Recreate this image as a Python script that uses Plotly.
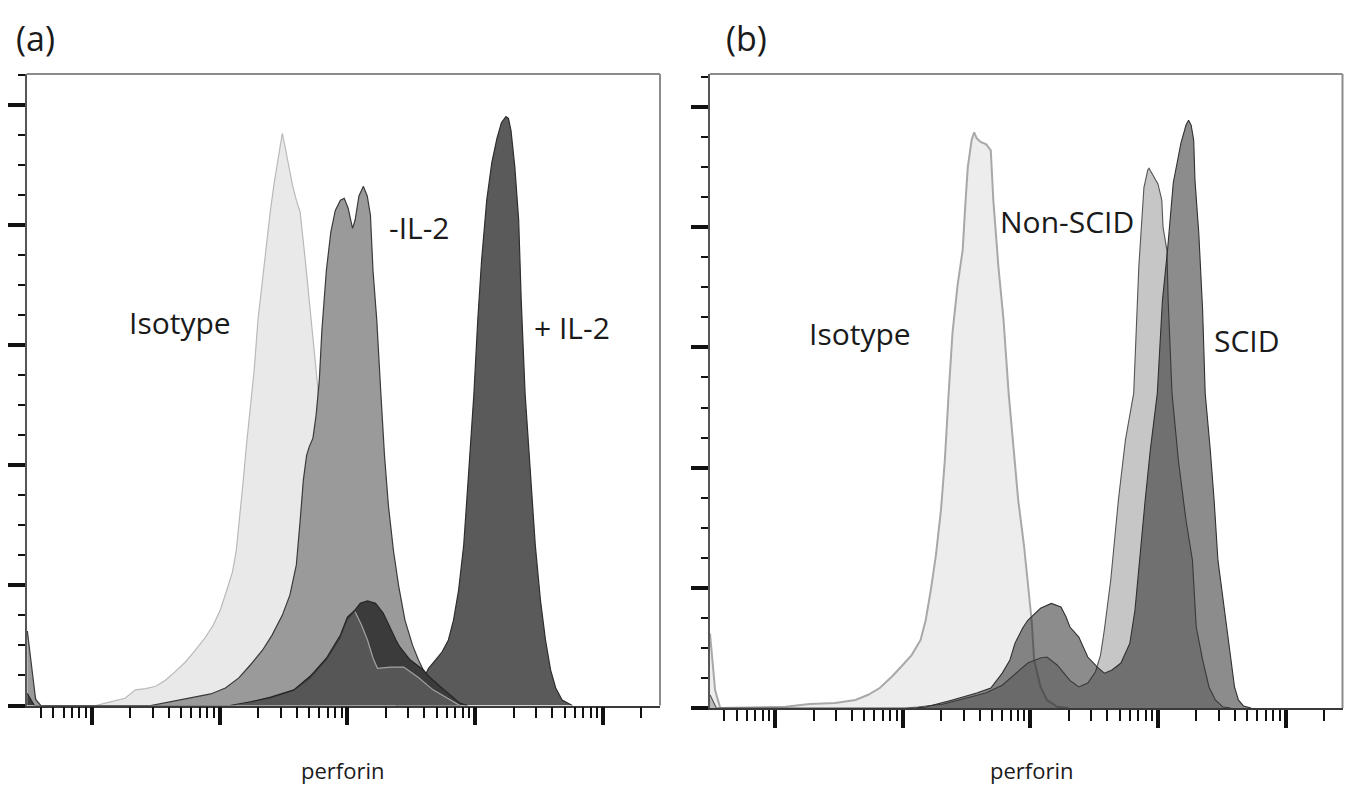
import plotly.graph_objects as go

# ---------------- panel (a) : perforin, log10 intensity vs count ----------------
a_iso_log = [0.495, 0.54, 0.58, 1.03, 1.145, 1.26, 1.34, 1.42, 1.50, 1.575, 1.65, 1.73, 1.81, 1.89, 1.95,
             2.005, 2.05, 2.10, 2.13, 2.16, 2.185, 2.21, 2.24, 2.27, 2.30, 2.335, 2.366, 2.397, 2.43, 2.46,
             2.49, 2.51, 2.54, 2.57, 2.60, 2.63, 2.67, 2.71, 2.75, 2.77, 2.80, 2.85, 2.905, 2.96, 3.02,
             3.10, 3.196, 3.30]
a_iso_cnt = [60, 13, 0, 0, 3, 6, 13, 14, 16, 21, 28, 36, 46, 57, 67,
             79.5, 94, 111, 129, 158.5, 187.6, 217, 246, 279, 321, 354, 387, 412, 437, 458,
             476, 466, 450, 433, 420.5, 410.5, 370.6, 329, 287, 262.5, 221, 171, 121, 79.5, 46,
             21, 7, 0]

a_minus_log = [0.495, 0.56, 0.60, 1.46, 1.61, 1.77, 1.93, 2.045, 2.15, 2.24,
               2.335, 2.41, 2.49, 2.55, 2.60, 2.63, 2.655, 2.68, 2.70, 2.73,
               2.755, 2.78, 2.80, 2.835, 2.87, 2.905, 2.945, 2.975, 3.005, 3.04,
               3.06, 3.09, 3.125, 3.155, 3.18, 3.20, 3.23, 3.26, 3.29, 3.32,
               3.36, 3.40, 3.45, 3.51, 3.555, 3.60, 3.65, 3.71, 3.79, 3.88]
a_minus_cnt = [62, 5, 0, 0, 3, 6, 9.6, 14.6, 23, 33.7,
               46, 58.6, 75, 92, 117, 154, 187.6, 208, 215, 222.5,
               241.7, 271, 312, 362, 394, 412, 420.5, 422, 414, 397,
               404, 424, 432, 424, 408, 362, 320, 262.5, 208, 167,
               129, 100, 71, 50, 38, 28, 19.6, 10, 3.7, 0]

a_plus_log = [3.38, 3.49, 3.57, 3.635, 3.69, 3.74, 3.79, 3.83, 3.87, 3.91,
              3.95, 3.99, 4.02, 4.05, 4.09, 4.13, 4.17, 4.205, 4.24, 4.26,
              4.28, 4.31, 4.34, 4.36, 4.39, 4.43, 4.47, 4.51, 4.55, 4.59,
              4.63, 4.68, 4.76]
a_plus_cnt = [0, 6, 17, 31, 38, 44.5, 54.5, 71, 96, 133.5,
              196, 260, 321, 370.6, 420.5, 452, 472, 485, 490, 488.6,
              478.5, 448, 404, 337, 260, 196, 133.5, 88, 54.5, 29.5,
              14.6, 4.6, 0]

a_low1_log = [0.495, 0.55, 2.08, 2.24, 2.40, 2.58, 2.71, 2.84, 2.945, 3.0,
              3.06, 3.10, 3.157, 3.22, 3.28, 3.34, 3.38, 3.41, 3.49, 3.595,
              3.63, 3.73, 3.88, 3.94]
a_low1_cnt = [10, 0, 0, 3, 7, 13, 24.5, 40, 58.6, 73.6,
              79.5, 85, 87, 85, 77, 63, 54.5, 48.7, 38, 29.5,
              25, 15.4, 2, 0]

a_low2_log = [2.08, 2.24, 2.40, 2.58, 2.71, 2.84, 2.945, 3.0, 3.06, 3.11,
              3.157, 3.20, 3.235, 3.34, 3.44, 3.55, 3.67, 3.83, 3.88]
a_low2_cnt = [0, 2.4, 6, 12, 22.5, 38, 56, 71, 78, 67,
              54.5, 39.5, 31, 32, 32, 23.7, 13, 3, 0]

# ---------------- panel (b) ----------------
b_iso_log = [0.49, 0.53, 0.57, 1.08, 1.27, 1.47, 1.63, 1.73, 1.82, 1.92,
             2.00, 2.07, 2.14, 2.18, 2.22, 2.26, 2.30, 2.33, 2.36, 2.39,
             2.43, 2.47, 2.49, 2.51, 2.54, 2.56, 2.58, 2.61, 2.655, 2.69,
             2.71, 2.75, 2.79, 2.83, 2.87, 2.905, 2.95, 2.98, 3.01, 3.03,
             3.055, 3.08, 3.13, 3.21, 3.30]
b_iso_cnt = [62, 15, 0, 1, 3.3, 4.2, 6.7, 11, 16.6, 26.6,
             35.8, 44, 56.6, 73, 98, 127, 165, 206, 262, 312,
             352, 381, 418, 450, 472.5, 479, 474, 471, 469, 464,
             422.6, 367, 323, 262, 214.6, 173, 135.6, 106.5, 73, 40,
             27.5, 17.5, 6.7, 1, 0]

b_nonscid_log = [0.49, 0.54, 2.02, 2.12, 2.32, 2.45, 2.65, 2.78, 2.90, 2.98,
                 3.08, 3.13, 3.21, 3.31, 3.38, 3.45, 3.51, 3.55, 3.58, 3.63,
                 3.69, 3.745, 3.81, 3.85, 3.89, 3.92, 3.93, 3.96, 3.98, 4.00,
                 4.03, 4.04, 4.07, 4.08, 4.11, 4.16, 4.22, 4.27, 4.30, 4.35,
                 4.40, 4.45, 4.51, 4.57]
b_nonscid_cnt = [11, 0, 0, 0.8, 3.3, 6.7, 12.5, 19, 30, 37.4,
                 41.6, 42.4, 35.8, 23, 17.5, 20.8, 30, 44, 65, 106.5,
                 173, 223, 262, 367, 433, 447.6, 449, 443.4, 439, 436,
                 422.6, 400, 381, 339, 262, 206, 156, 123, 67.4, 40,
                 17.5, 6.7, 0.8, 0]

b_scid_log = [2.10, 2.18, 2.39, 2.58, 2.69, 2.78, 2.84, 2.88, 2.94, 2.98,
              3.08, 3.165, 3.24, 3.28, 3.31, 3.38, 3.45, 3.525, 3.58, 3.64,
              3.71, 3.78, 3.82, 3.855, 3.90, 3.94, 3.995, 4.035, 4.075, 4.12,
              4.18, 4.22, 4.24, 4.26, 4.28, 4.29, 4.32, 4.35, 4.37, 4.41,
              4.44, 4.47, 4.51, 4.54, 4.57, 4.60, 4.63, 4.67, 4.73]
b_scid_cnt = [0, 0.8, 6.7, 12.5, 16.6, 29, 40, 54, 66.6, 73,
              83, 87, 84, 75.7, 67.4, 59, 42.4, 34, 29, 31.6,
              37.4, 54, 81.5, 123, 173, 214.6, 262, 339, 381, 437,
              470, 485, 489, 485, 472.5, 439, 395, 331, 262, 214.6,
              173, 123, 90, 67.4, 40, 17.5, 6.7, 1.7, 0]

x_major = [1e1, 1e2, 1e3, 1e4, 1e5]
x_minor = [m * 10 ** d for d in range(0, 6) for m in range(2, 10)]
y_major = [0, 100, 200, 300, 400, 500]

FONT = "Open Sans, Liberation Sans, sans-serif"


def lin(v):
    return [10 ** t for t in v]


fig = go.Figure()


def add(log, cnt, fill, line, width, xa, ya, name):
    fig.add_trace(go.Scatter(x=lin(log), y=cnt, mode="lines", fill="tozeroy",
                             fillcolor=fill, line=dict(color=line, width=width),
                             xaxis=xa, yaxis=ya, name=name, hoverinfo="skip"))


# panel (a)
add(a_iso_log, a_iso_cnt, "#e9e9e9", "#b9b9b9", 1.2, "x", "y", "Isotype")
add(a_minus_log, a_minus_cnt, "#9a9a9a", "#3a3a3a", 1.2, "x", "y", "-IL-2")
add(a_plus_log, a_plus_cnt, "#5a5a5a", "#2e2e2e", 1.2, "x", "y", "+ IL-2")
add(a_low1_log, a_low1_cnt, "#3b3b3b", "#262626", 1.2, "x", "y", "+ IL-2 low")
add(a_low2_log, a_low2_cnt, "#565656", "rgba(0,0,0,0)", 0, "x", "y", "low 2")
pk = a_low2_cnt.index(max(a_low2_cnt))
fig.add_trace(go.Scatter(x=lin(a_low2_log[pk:]), y=a_low2_cnt[pk:], mode="lines",
                         line=dict(color="#a3a3a3", width=1.2), xaxis="x", yaxis="y",
                         hoverinfo="skip", name="low 2 outline"))

# panel (b)
add(b_iso_log, b_iso_cnt, "#ededed", "#a8a8a8", 2, "x2", "y2", "Isotype")
add(b_nonscid_log, b_nonscid_cnt, "rgba(92,92,92,0.35)", "#555555", 1.1, "x2", "y2", "Non-SCID")
add(b_scid_log, b_scid_cnt, "rgba(29,29,29,0.51)", "#303030", 1.1, "x2", "y2", "SCID")

W, H = 1350, 787


def xaxis(dom):
    return dict(type="log", domain=dom, range=[0.49, 5.446], showgrid=False, zeroline=False,
                showline=True, linecolor="#3a3a3a", linewidth=1.5,
                tickmode="array", tickvals=x_major, showticklabels=False,
                ticks="outside", ticklen=18, tickwidth=4, tickcolor="#111111",
                minor=dict(tickmode="array", tickvals=x_minor, ticks="outside",
                           ticklen=11, tickwidth=2, tickcolor="#111111", showgrid=False))


def yaxis(dom, top, anchor):
    return dict(domain=dom, range=[0, top], showgrid=False, zeroline=False,
                showline=True, linecolor="#555555", linewidth=1.5, anchor=anchor,
                tickmode="array", tickvals=y_major, showticklabels=False,
                ticks="outside", ticklen=17, tickwidth=4, tickcolor="#111111",
                minor=dict(dtick=25, tick0=0, ticks="outside", ticklen=7, tickwidth=2,
                           tickcolor="#111111", showgrid=False))


fig.update_layout(
    width=W, height=H, margin=dict(l=0, r=0, t=0, b=0),
    paper_bgcolor="white", plot_bgcolor="white", showlegend=False,
    font=dict(family=FONT, color="#1a1a1a"),
    xaxis=xaxis([26.7 / W, 660 / W]) | dict(anchor="y"),
    yaxis=yaxis([(H - 705.5) / H, (H - 74) / H], 525.5, "x"),
    xaxis2=xaxis([710 / W, 1342.5 / W]) | dict(anchor="y2"),
    yaxis2=yaxis([(H - 708) / H, (H - 74) / H], 527.5, "x2"),
)

# frame (top and right edges, lighter grey)
for xr, yr in (("x domain", "y domain"), ("x2 domain", "y2 domain")):
    fig.add_shape(type="line", xref=xr, yref=yr, x0=0, x1=1, y0=1, y1=1,
                  line=dict(color="#8c8c8c", width=2))
    fig.add_shape(type="line", xref=xr, yref=yr, x0=1, x1=1, y0=0, y1=1,
                  line=dict(color="#8c8c8c", width=2))

labels = [
    ("(a)", 35, 38, 34), ("(b)", 746, 38, 34),
    ("perforin", 342, 770, 22), ("perforin", 1031, 770, 22),
    ("Isotype", 180, 322, 30), ("-IL-2", 419, 228, 30), ("+ IL-2", 572, 327, 30),
    ("Isotype", 860, 333, 30), ("Non-SCID", 1067, 222, 30), ("SCID", 1247, 340, 30),
]
for txt, px, py, fs in labels:
    fig.add_annotation(text=txt, x=px / W, y=1 - py / H, xref="paper", yref="paper",
                       showarrow=False, xanchor="center", yanchor="middle",
                       font=dict(size=fs, family=FONT, color="#1a1a1a"))

fig.write_html("out.html")
